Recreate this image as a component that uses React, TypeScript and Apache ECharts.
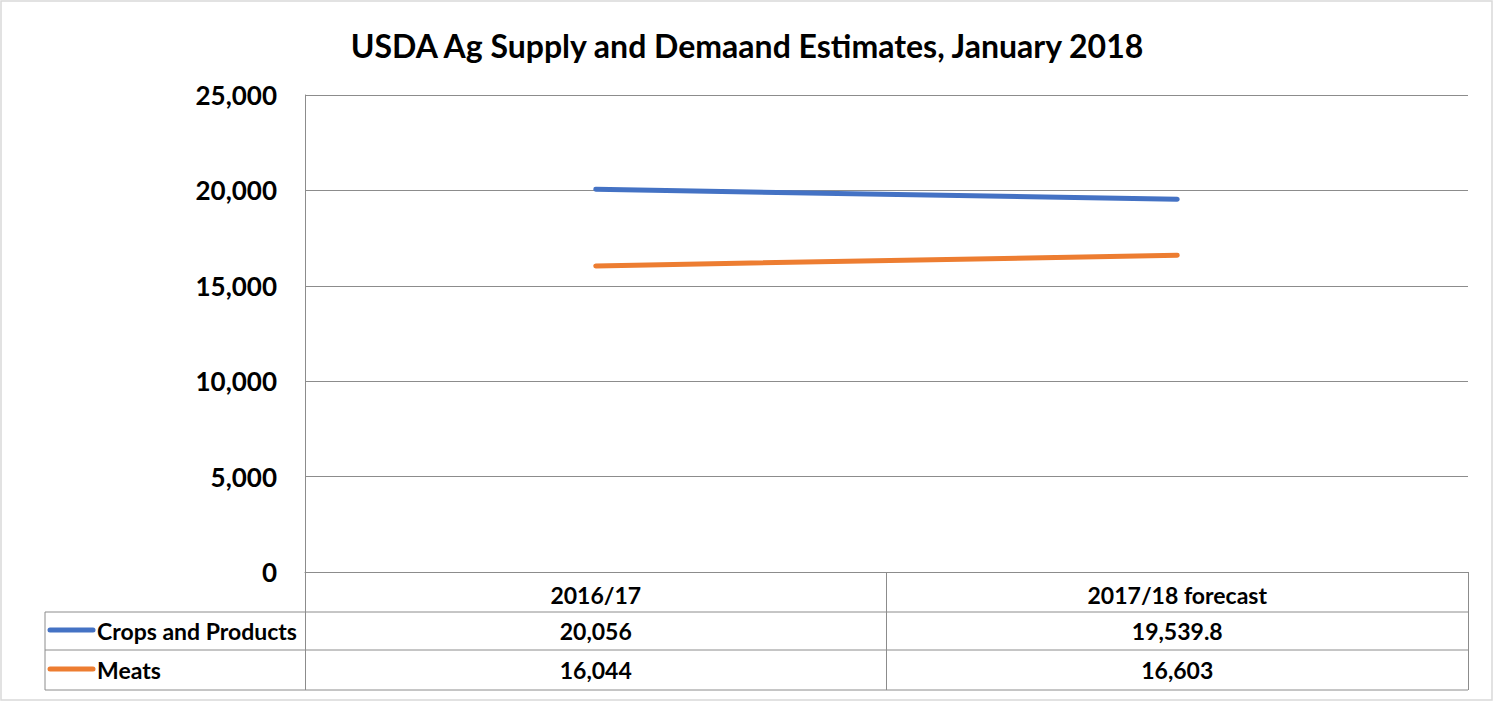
import React, { useEffect, useRef } from "react";
import * as echarts from "echarts";

const title = "USDA Ag Supply and Demaand Estimates, January 2018";
const categories = ["2016/17", "2017/18 forecast"];
const seriesNames = ["Crops and Products", "Meats"];
const cropsValues = [20056, 19539.8];
const meatsValues = [16044, 16603];
const seriesColors = ["#4472C4", "#ED7D31"];
const yTicks = { min: 0, max: 25000, interval: 5000 };

const FONT = "Lato";

function fmt(v: number): string {
  return v.toLocaleString("en-US", { maximumFractionDigits: 1 });
}

export default function App() {
  const ref = useRef<HTMLDivElement>(null);
  useEffect(() => {
    if (!ref.current) return;
    const chart = echarts.init(ref.current, undefined, { renderer: "svg" });
    const gridLeft = 305;
    const gridRight = 1468;
    const gridBottomY = 572;
    const rowYs = [612, 650, 690];
    const allValues = [cropsValues, meatsValues];
    const colCenters = categories.map(
      (_, i) => gridLeft + ((gridRight - gridLeft) / categories.length) * (i + 0.5)
    );
    const graphics: any[] = [
      {
        type: "rect",
        shape: { x: 1, y: 1, width: 1491, height: 699 },
        style: { fill: "none", stroke: "#d9d9d9", lineWidth: 1.5 },
        silent: true,
      },
    ];
    rowYs.forEach((y) => {
      graphics.push({
        type: "line",
        shape: { x1: 45, y1: y, x2: gridRight, y2: y },
        style: { stroke: "#8c8c8c", lineWidth: 1 },
      });
    });
    graphics.push({
      type: "line",
      shape: { x1: 45, y1: rowYs[0], x2: 45, y2: rowYs[2] },
      style: { stroke: "#8c8c8c", lineWidth: 1 },
    });
    seriesNames.forEach((name, r) => {
      const cy = (rowYs[r] + rowYs[r + 1]) / 2;
      graphics.push({
        type: "line",
        shape: { x1: 50, y1: cy - 1, x2: 93, y2: cy - 1 },
        style: { stroke: seriesColors[r], lineWidth: 5, lineCap: "round" },
      });
      graphics.push({
        type: "text",
        x: 97,
        y: cy,
        style: {
          text: name,
          font: `bold 23px ${FONT}`,
          fill: "#000",
          verticalAlign: "middle",
          align: "left",
        },
      });
      allValues[r].forEach((v, c) => {
        graphics.push({
          type: "text",
          x: colCenters[c],
          y: cy,
          style: {
            text: fmt(v),
            font: `bold 23px ${FONT}`,
            fill: "#000",
            verticalAlign: "middle",
            align: "center",
          },
        });
      });
    });

    chart.setOption({
      animation: false,
      backgroundColor: "#fff",
      title: {
        text: title,
        left: "center",
        top: 24,
        textStyle: { fontFamily: FONT, fontWeight: "bold", fontSize: 32, color: "#000" },
      },
      grid: { left: gridLeft, right: 1494 - gridRight, top: 95, bottom: 702 - gridBottomY },
      xAxis: {
        type: "category",
        data: categories,
        boundaryGap: true,
        axisLine: { show: true, lineStyle: { color: "#8c8c8c", width: 1 } },
        axisTick: { show: true, length: 118, lineStyle: { color: "#8c8c8c", width: 1 } },
        axisLabel: {
          margin: 11,
          fontFamily: FONT,
          fontWeight: "bold",
          fontSize: 23,
          color: "#000",
        },
      },
      yAxis: {
        type: "value",
        min: yTicks.min,
        max: yTicks.max,
        interval: yTicks.interval,
        axisLine: { show: true, lineStyle: { color: "#8c8c8c", width: 1 } },
        axisTick: { show: false },
        splitLine: { show: true, lineStyle: { color: "#8c8c8c", width: 1 } },
        axisLabel: {
          margin: 28,
          fontFamily: FONT,
          fontWeight: "bold",
          fontSize: 26,
          color: "#000",
          formatter: (v: number) => fmt(v),
        },
      },
      graphic: graphics,
      series: [
        {
          name: seriesNames[0],
          type: "line",
          data: cropsValues,
          symbol: "none",
          lineStyle: { color: seriesColors[0], width: 5, cap: "round" },
          itemStyle: { color: seriesColors[0] },
        },
        {
          name: seriesNames[1],
          type: "line",
          data: meatsValues,
          symbol: "none",
          lineStyle: { color: seriesColors[1], width: 5, cap: "round" },
          itemStyle: { color: seriesColors[1] },
        },
      ],
    });
    return () => chart.dispose();
  }, []);
  return (
    <div
      ref={ref}
      style={{ position: "fixed", left: 0, top: 0, width: 1494, height: 702 }}
    />
  );
}
